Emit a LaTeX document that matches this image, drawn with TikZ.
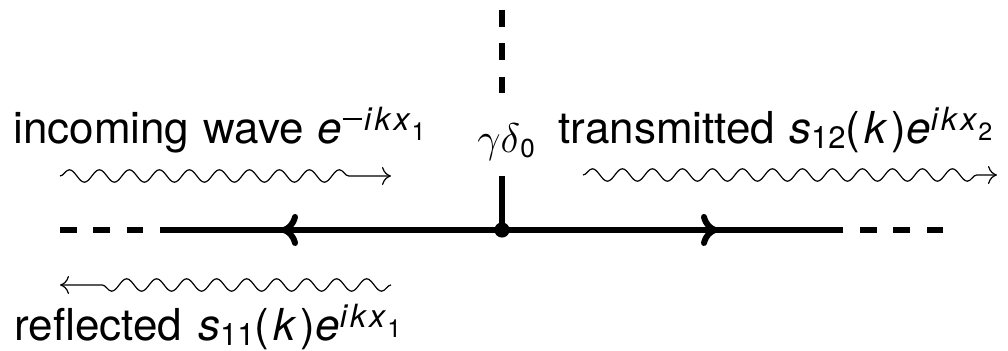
\documentclass[tikz,border=0pt]{standalone}
\usepackage{fontspec}
\setmainfont{TeX Gyre Heros}
\usetikzlibrary{arrows.meta,decorations.pathmorphing}
\newcommand{\lblfont}{\fontsize{22}{26}\selectfont\spaceskip=7pt plus 1pt\relax}
\newcommand{\mySup}[1]{\raisebox{6.8pt}{\fontsize{16}{17}\selectfont #1}}
\newcommand{\mySub}[1]{\raisebox{-2.5pt}{\fontsize{15.5}{16}\selectfont #1}}
\newcommand{\mySubSub}[1]{\raisebox{-5pt}{\fontsize{12.5}{13}\selectfont #1}}
\newcommand{\myPar}[1]{(\kern2pt\textit{#1}\kern2pt)}
\newcommand{\myIkx}{\textit{i}\kern1pt\textit{k}\kern1pt\textit{x}\kern0.5pt}
\newcommand{\myMinus}{\kern0.5pt\rule[5.2pt]{9.5pt}{0.75pt}\kern1pt}
\begin{document}
\begin{tikzpicture}[x=0.5pt,y=0.5pt,
  mainline/.style={line width=3pt},
  dashedline/.style={line width=3pt, dash pattern=on 8.33pt off 8.33pt},
  bigtip/.style={-{Computer Modern Rightarrow[length=8.5pt,width=16pt,line cap=round]}},
  wave/.style={line width=0.6pt, decorate,
    decoration={snake, amplitude=3.1pt, segment length=15pt, post length=#1}},
  wave/.default=15pt,
  wavetip/.style={-{Computer Modern Rightarrow[length=4.5pt,width=9pt]}},
  lbl/.style={inner sep=0pt, font=\lblfont}
]
\useasboundingbox (0,0) rectangle (1008,351);
% points of the line
\coordinate (v) at (502,121);
\coordinate (L) at (170,121);
\coordinate (R) at (832,121);
\coordinate (Ltip) at (281,121);
\coordinate (Rtip) at (718,121);
\coordinate (Lend) at (60,121);
\coordinate (Rend) at (943.3,121);
\coordinate (top) at (502,341);
\coordinate (topd) at (502,257.7);
\coordinate (vs) at (502,175);
% wave end points
\coordinate (inA) at (60,175);
\coordinate (inB) at (391,175);
\coordinate (trA) at (583,176);
\coordinate (trB) at (997,176);
\coordinate (reA) at (391,66);
\coordinate (reB) at (60,66);
% main line
\draw[dashedline] (Lend) -- (L);
\draw[dashedline] (Rend) -- (R);
\draw[dashedline] (top) -- (topd);
\draw[mainline] (L) -- (R);
\draw[mainline, bigtip] (v) -- (Ltip);
\draw[mainline, bigtip] (v) -- (Rtip);
\draw[mainline] (v) -- (vs);
\fill (v) circle (3.8pt);
% waves
\draw[wave, wavetip] (inA) -- (inB);
\draw[wave=8pt, wavetip] (trA) -- (trB);
\draw[wave, wavetip] (reA) -- (reB);
% labels
\node[lbl, anchor=base west] (inc) at (13,207)
  {incoming wave \textit{e}\mySup{\myMinus\myIkx\mySubSub{1}}};
\node[lbl, anchor=base west] (gd) at (477,198)
  {$\gamma\delta$\raisebox{-2.5pt}{\fontsize{13}{13}\selectfont 0}};
\node[lbl, anchor=base west] (tra) at (558,207)
  {transmitted \textit{s}\mySub{12}\myPar{k}\textit{e}\mySup{\myIkx\mySubSub{2}}};
\node[lbl, anchor=base west] (ref) at (14,10)
  {reflected \kern1pt\textit{s}\mySub{11}\myPar{k}\textit{e}\mySup{\myIkx\mySubSub{1}}};
\end{tikzpicture}
\end{document}
